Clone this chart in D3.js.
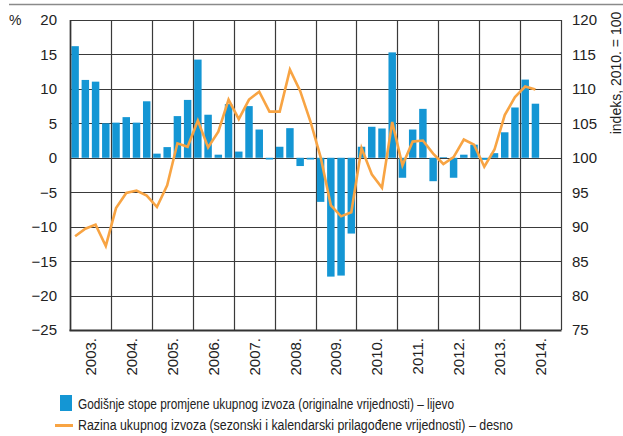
<!DOCTYPE html>
<html>
<head>
<meta charset="utf-8">
<script src="https://cdn.jsdelivr.net/npm/d3@7"></script>
<style>
  body { margin: 0; background: #fff; }
  svg { display: block; }
  text { font-family: "Liberation Sans Narrow", "Arial Narrow", "Liberation Sans", Arial, sans-serif; fill: #222; }
</style>
</head>
<body>
<svg id="chart" width="623" height="436"></svg>
<script>
// godine i kvartali
const years = ["2003.", "2004.", "2005.", "2006.", "2007.", "2008.", "2009.", "2010.", "2011.", "2012.", "2013.", "2014."];
const quarters = years.flatMap(y => ["Q1", "Q2", "Q3", "Q4"].map(q => y + q));

// godišnje stope promjene (%), lijeva os – od 2003.Q1 do 2014.Q2
const growth = [
  16.2, 11.3, 11.05, 5.0,
  5.1, 5.9, 5.1, 8.2,
  0.6, 1.55, 6.05, 8.4,
  14.25, 6.25, 0.45, 7.8,
  0.9, 7.5, 4.1, -0.25,
  1.6, 4.3, -1.2, -0.25,
  -6.4, -17.25, -17.1, -11.0,
  1.6, 4.5, 4.25, 15.3,
  -2.9, 4.1, 7.1, -3.4,
  0.1, -2.9, 0.45, 1.9,
  -0.3, 0.67, 3.7, 7.3,
  11.35, 7.85
];

// razina izvoza (indeks, 2010. = 100), desna os
const level = [
  88.6, 89.7, 90.3, 87.2,
  92.7, 94.9, 95.25, 94.5,
  92.85, 96.0, 102.1, 101.6,
  105.4, 101.5, 103.8, 108.45,
  105.6, 108.45, 109.6, 106.7,
  106.7, 112.8, 109.7, 105.3,
  100.1, 93.1, 91.5, 92.1,
  101.4, 97.6, 95.65, 105.2,
  98.9, 102.35, 102.5, 100.6,
  99.1, 100.1, 102.65, 101.9,
  98.7, 101.2, 106.2, 108.8,
  110.35, 109.9
];

const leftTicks = [-25, -20, -15, -10, -5, 0, 5, 10, 15, 20];
const rightTicks = [75, 80, 85, 90, 95, 100, 105, 110, 115, 120];

const legendLabels = [
  "Godišnje stope promjene ukupnog izvoza (originalne vrijednosti) – lijevo",
  "Razina ukupnog izvoza (sezonski i kalendarski prilagođene vrijednosti) – desno"
];

const barColor = "#1496d4";
const lineColor = "#f8a443";
const gridColor = "#3a3a3a";

const plot = { left: 70, right: 561, top: 20, bottom: 330 };

const svg = d3.select("#chart");

// top rule
svg.append("line")
  .attr("x1", 9).attr("x2", 623).attr("y1", 4.5).attr("y2", 4.5)
  .attr("stroke", "#8a8a8a").attr("stroke-width", 1.5);

const x = d3.scaleBand().domain(quarters).range([plot.left, plot.right]).paddingInner(0.27).paddingOuter(0.135);
const xYear = d3.scaleBand().domain(years).range([plot.left, plot.right]);
const yL = d3.scaleLinear().domain([-25, 20]).range([plot.bottom, plot.top]);
const yR = d3.scaleLinear().domain([75, 120]).range([plot.bottom, plot.top]);

// mreža
const grid = svg.append("g");
grid.selectAll(".h").data(leftTicks).join("line")
  .attr("x1", plot.left).attr("x2", plot.right)
  .attr("y1", d => Math.round(yL(d)) + 0.5).attr("y2", d => Math.round(yL(d)) + 0.5)
  .attr("stroke", gridColor).attr("stroke-width", 1.2);
grid.selectAll(".v").data(years.concat(["end"])).join("line")
  .attr("x1", (d, i) => Math.round(plot.left + i * xYear.bandwidth()) + 0.5)
  .attr("x2", (d, i) => Math.round(plot.left + i * xYear.bandwidth()) + 0.5)
  .attr("y1", plot.top).attr("y2", plot.bottom)
  .attr("stroke", gridColor).attr("stroke-width", 1.2);

// stupci
svg.append("g").selectAll("rect").data(growth).join("rect")
  .attr("x", (d, i) => x(quarters[i]))
  .attr("width", x.bandwidth())
  .attr("y", d => yL(Math.max(0, d)))
  .attr("height", d => Math.abs(yL(d) - yL(0)))
  .attr("fill", barColor);

// linija
const line = d3.line()
  .x((d, i) => x(quarters[i]) + x.bandwidth() / 2)
  .y(d => yR(d));
svg.append("path").datum(level)
  .attr("d", line)
  .attr("fill", "none")
  .attr("stroke", lineColor)
  .attr("stroke-width", 2.6)
  .attr("stroke-linejoin", "miter");

// okvir
svg.append("line")
  .attr("x1", plot.left - 0.5).attr("x2", plot.right + 0.5)
  .attr("y1", plot.bottom + 0.5).attr("y2", plot.bottom + 0.5)
  .attr("stroke", "#333").attr("stroke-width", 2);
svg.append("line")
  .attr("x1", plot.left + 0.5).attr("x2", plot.left + 0.5)
  .attr("y1", plot.top).attr("y2", plot.bottom + 1)
  .attr("stroke", "#333").attr("stroke-width", 1.6);

// lijeva os
const fmt = d => d < 0 ? "\u2212" + Math.abs(d) : String(d);
svg.append("g").selectAll("text").data(leftTicks).join("text")
  .attr("x", 57).attr("y", d => yL(d)).attr("dy", "0.36em")
  .attr("text-anchor", "end").attr("font-size", 15)
  .text(fmt);
svg.append("text").attr("x", 9).attr("y", 25).attr("font-size", 14).text("%");

// desna os
svg.append("g").selectAll("text").data(rightTicks).join("text")
  .attr("x", 572).attr("y", d => yR(d)).attr("dy", "0.36em")
  .attr("font-size", 15)
  .text(d => d);
svg.append("text")
  .attr("transform", "translate(621,73) rotate(-90)")
  .attr("text-anchor", "middle").attr("font-size", 14)
  .text("indeks, 2010. = 100");

// godine
svg.append("g").selectAll("text").data(years).join("text")
  .attr("transform", d => `translate(${xYear(d) + xYear.bandwidth() / 2 + 5.5},338) rotate(-90)`)
  .attr("text-anchor", "end").attr("font-size", 15)
  .text(d => d);

// legenda (uski font)
const lg = svg.append("g");
lg.append("rect").attr("x", 60).attr("y", 395).attr("width", 12).attr("height", 16).attr("fill", barColor);
lg.append("text").attr("x", 78).attr("y", 409).attr("font-size", 15.5)
  .attr("textLength", 376).attr("lengthAdjust", "spacingAndGlyphs")
  .text(legendLabels[0]);
lg.append("line").attr("x1", 55).attr("x2", 73).attr("y1", 425.5).attr("y2", 425.5)
  .attr("stroke", lineColor).attr("stroke-width", 3);
lg.append("text").attr("x", 78).attr("y", 429.5).attr("font-size", 15.5)
  .attr("textLength", 435).attr("lengthAdjust", "spacingAndGlyphs")
  .text(legendLabels[1]);
</script>
</body>
</html>
